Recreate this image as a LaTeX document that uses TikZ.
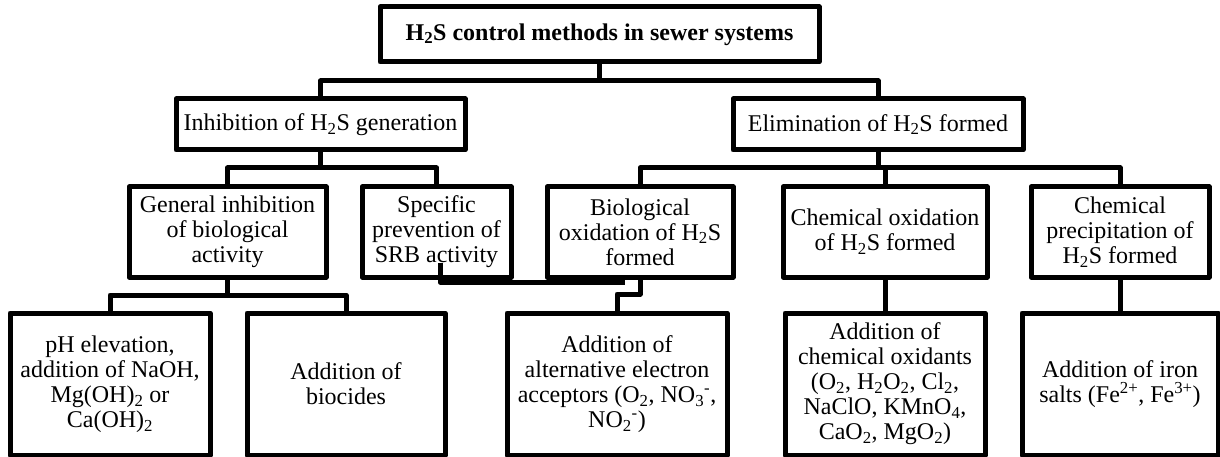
\documentclass[tikz,border=0pt]{standalone}
\usepackage{fontspec}
\setmainfont{Liberation Serif}
\begin{document}
\begin{tikzpicture}[x=1pt,y=-1pt,
  box/.style={draw, line width=5pt, line join=round, inner sep=0pt, outer sep=0pt,
              align=center, font=\fontsize{24}{25}\selectfont},
  conn/.style={line width=5pt, line join=round}]
\useasboundingbox (0,0) rectangle (1220,457);
% level 0
\node[box, minimum width=439pt, minimum height=55pt] (top) at (599.5,34.5)
  {\bfseries H\textsubscript{2}S control methods in sewer systems};
% level 1
\node[box, minimum width=289pt, minimum height=51pt] (inh) at (320.5,124.5)
  {Inhibition of H\textsubscript{2}S generation};
\node[box, minimum width=290pt, minimum height=51pt] (elim) at (878,124.5)
  {Elimination of H\textsubscript{2}S formed};
% level 2
\node[box, minimum width=197pt, minimum height=90pt] (gen) at (227.5,232)
  {General inhibition\\of biological\\activity};
\node[box, minimum width=149pt, minimum height=90pt] (srb) at (436.5,232)
  {Specific\\prevention of\\SRB activity};
\node[box, minimum width=186pt, minimum height=90pt] (bio) at (640,232)
  {Biological\\oxidation of H\textsubscript{2}S\\formed};
\node[box, minimum width=204pt, minimum height=90pt] (chox) at (885,232)
  {Chemical oxidation\\of H\textsubscript{2}S formed};
\node[box, minimum width=178pt, minimum height=90pt] (prec) at (1120,232)
  {Chemical\\precipitation of\\H\textsubscript{2}S formed};
% level 3
\node[box, minimum width=200pt, minimum height=142pt] (b1) at (110,384)
  {pH elevation,\\addition of NaOH,\\Mg(OH)\textsubscript{2} or\\Ca(OH)\textsubscript{2}};
\node[box, minimum width=198pt, minimum height=142pt] (b2) at (346,384)
  {Addition of\\biocides};
\node[box, minimum width=220pt, minimum height=142pt] (b3) at (617,384)
  {Addition of\\alternative electron\\acceptors (O\textsubscript{2}, NO\textsubscript{3}\textsuperscript{-},\\NO\textsubscript{2}\textsuperscript{-})};
\node[box, minimum width=200pt, minimum height=142pt] (b4) at (885,384)
  {Addition of\\chemical oxidants\\(O\textsubscript{2}, H\textsubscript{2}O\textsubscript{2}, Cl\textsubscript{2},\\NaClO, KMnO\textsubscript{4},\\CaO\textsubscript{2}, MgO\textsubscript{2})};
\node[box, minimum width=196pt, minimum height=142pt] (b5) at (1120,384)
  {Addition of iron\\salts (Fe\textsuperscript{2+}, Fe\textsuperscript{3+})};
% bus coordinates
\coordinate (bus1) at (599.5,81);
\coordinate (bus2) at (320.5,168);
\coordinate (bus3) at (878,168);
\coordinate (bus4) at (227.5,295);
\coordinate (srbA) at (440,263);
\coordinate (srbB) at (625,282);
% connectors
\draw[conn] (top.south) -- (bus1);
\draw[conn] (inh.north) |- (bus1) -| (elim.north);
\draw[conn] (inh.south) -- (bus2);
\draw[conn] (gen.north) |- (bus2) -| (srb.north);
\draw[conn] (elim.south) -- (bus3);
\draw[conn] (bio.north) |- (bus3) -| (prec.north);
\draw[conn] (chox.north) -- (chox.north |- bus3);
\draw[conn] (gen.south) -- (bus4);
\draw[conn] (b1.north) |- (bus4) -| (b2.north);
\draw[conn] (srbA) |- (srbB);
\draw[conn] (bio.south) -- ++(0,17) -| (b3.north);
\draw[conn] (chox.south) -- (b4.north);
\draw[conn] (prec.south) -- (b5.north);
\end{tikzpicture}
\end{document}
